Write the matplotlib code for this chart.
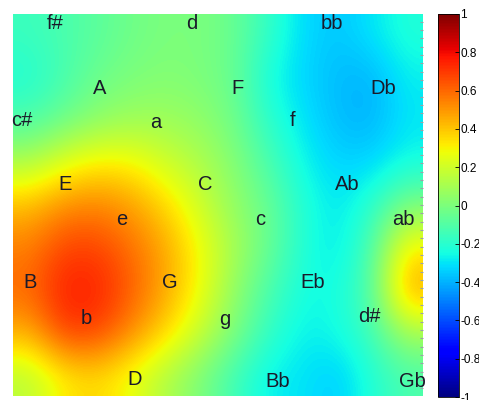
import numpy as np
import matplotlib
matplotlib.use("Agg")
import matplotlib.pyplot as plt

# Coarse grid of map values (rows top->bottom, cols left->right)
grid_values = [
    [-0.16, -0.12, -0.08, -0.03, 0.00, 0.00, -0.05, -0.18, -0.32, -0.36, -0.30, -0.22],
    [-0.22, -0.13, -0.04, 0.00, 0.02, 0.00, -0.05, -0.25, -0.33, -0.38, -0.40, -0.28],
    [-0.12, -0.04, 0.04, 0.08, 0.08, 0.05, -0.03, -0.20, -0.30, -0.38, -0.40, -0.30],
    [0.12, 0.25, 0.32, 0.30, 0.20, 0.12, 0.02, -0.12, -0.27, -0.33, -0.33, -0.25],
    [0.42, 0.52, 0.54, 0.48, 0.36, 0.20, 0.05, -0.05, -0.22, -0.30, -0.20, 0.00],
    [0.55, 0.68, 0.68, 0.58, 0.46, 0.28, 0.10, -0.05, -0.22, -0.30, -0.12, 0.32],
    [0.60, 0.76, 0.75, 0.62, 0.46, 0.28, 0.05, -0.12, -0.25, -0.25, -0.10, 0.48],
    [0.45, 0.70, 0.68, 0.52, 0.36, 0.18, 0.00, -0.18, -0.28, -0.25, -0.15, 0.10],
    [0.15, 0.32, 0.36, 0.26, 0.12, 0.00, -0.15, -0.28, -0.30, -0.35, -0.22, -0.12],
]

keys = ["f#", "d", "bb", "A", "F", "Db", "c#", "a", "f", "E", "C", "Ab",
        "e", "c", "ab", "B", "G", "Eb", "b", "g", "d#", "D", "Bb", "Gb"]
key_x = [0.102, 0.435, 0.778, 0.212, 0.548, 0.902, 0.022, 0.348, 0.683, 0.127, 0.468, 0.815,
         0.265, 0.604, 0.952, 0.041, 0.383, 0.730, 0.178, 0.517, 0.868, 0.297, 0.646, 0.975]
key_y = [0.026, 0.026, 0.026, 0.194, 0.194, 0.194, 0.280, 0.283, 0.280, 0.447, 0.447, 0.447,
         0.537, 0.537, 0.537, 0.704, 0.704, 0.704, 0.796, 0.799, 0.793, 0.958, 0.961, 0.961]

cbar_ticks = [1, 0.8, 0.6, 0.4, 0.2, 0, -0.2, -0.4, -0.6, -0.8, -1]
cbar_labels = ["1", "0.8", "0.6", "0.4", "0.2", "0", "-0.2", "-0.4", "-0.6", "-0.8", "-1"]

fig = plt.figure(figsize=(4.79, 4.00), dpi=100)
ax = fig.add_axes([13 / 479, 4 / 400, 410 / 479, 382 / 400])
im = ax.imshow(np.array(grid_values), cmap="jet", vmin=-1, vmax=1,
               extent=[0, 1, 1, 0], aspect="auto", interpolation="bicubic")
ax.set_xlim(0, 1)
ax.set_ylim(1, 0)
for s in ax.spines.values():
    s.set_visible(False)
ax.set_xticks([])
ax.yaxis.tick_right()
ax.set_yticks(np.linspace(0.02, 0.98, 45))
ax.tick_params(axis="y", direction="in", length=2.5, width=0.8, colors="#9aa0a6", labelright=False)

fnt = ["Liberation Sans Narrow", "Liberation Sans", "DejaVu Sans"]
for k, x, y in zip(keys, key_x, key_y):
    ax.text(x, y, k, ha="center", va="center", fontsize=14.5, color="#1a1a2a",
            family=fnt, clip_on=False)

cax = fig.add_axes([438 / 479, 3 / 400, 21 / 479, 383 / 400])
cb = fig.colorbar(im, cax=cax, ticks=cbar_ticks)
cb.outline.set_linewidth(0.6)
cax.tick_params(direction="in", length=3, width=0.6, pad=1)
cax.set_yticklabels(cbar_labels, family=fnt, fontsize=8.5)

fig.savefig("out.png", dpi=100)
